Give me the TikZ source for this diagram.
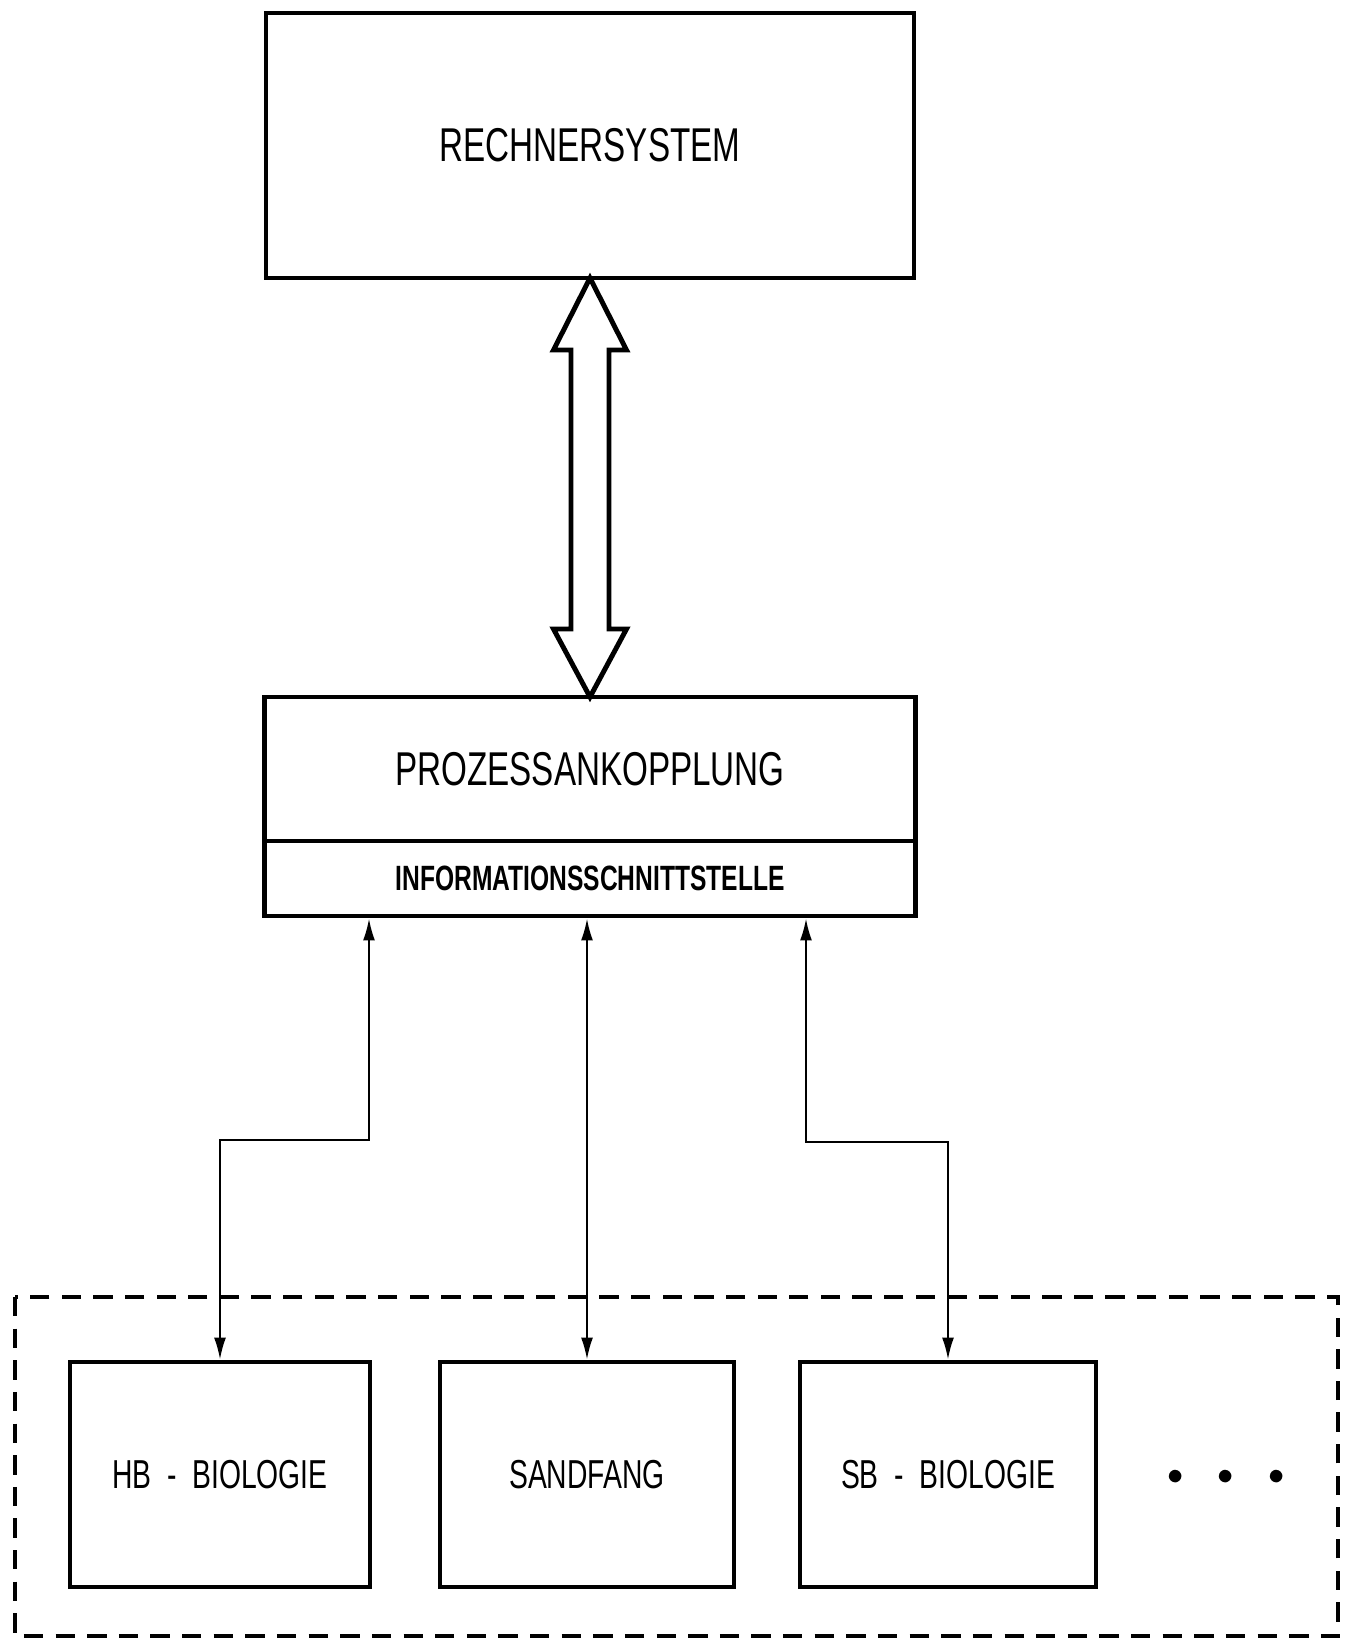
\documentclass[tikz,border=0pt]{standalone}
\usepackage{fontspec}
\usepackage{tikz}
\usetikzlibrary{positioning,calc,arrows.meta}
\newfontfamily\plotfont[FakeStretch=0.7]{Liberation Sans}

\tikzset{
  box/.style={draw, line width=1.4pt, inner sep=0pt, outer sep=0pt, font=\plotfont\fontsize{13.5}{16}\selectfont},
  unitbox/.style={box, minimum width=2.96cm, minimum height=2.25cm, font=\plotfont\fontsize{11.5}{14}\selectfont},
  link/.style={line width=0.6pt, shorten <=0.7pt, shorten >=0.7pt, {Latex[length=2.2mm,width=1.2mm]}-{Latex[length=2.2mm,width=1.2mm]}},
  frame/.style={dashed, line width=0.9pt, dash pattern=on 5.5pt off 3.5pt}
}

\begin{document}
\begin{tikzpicture}
  \useasboundingbox (0,0) rectangle (13.52,-16.44);

  \node[box, minimum width=6.48cm, minimum height=2.65cm] (rs) at (5.90,-1.455) {RECHNERSYSTEM};
  \node[box, minimum width=6.51cm, minimum height=1.44cm] (pa) at (5.90,-7.69) {PROZESSANKOPPLUNG};
  \node[box, minimum width=6.51cm, minimum height=0.75cm, below=0pt of pa,
        font=\plotfont\bfseries\fontsize{10}{12}\selectfont] (info) {INFORMATIONSSCHNITTSTELLE};

  \draw[line width=1.4pt, line join=miter] (rs.south) -- ++(0.365,-0.72) -- ++(-0.175,0)
    -- ($(pa.north)+(0.19,0.68)$) -- ++(0.175,0) -- (pa.north) -- ++(-0.365,0.68) -- ++(0.175,0)
    -- ($(rs.south)+(-0.19,-0.72)$) -- ++(-0.175,0) -- cycle;

  \node[unitbox, minimum width=3.0cm] (hb) at (2.20,-14.745) {HB\ \ -\ \ BIOLOGIE};
  \node[unitbox, minimum width=2.94cm] (sf) at (5.87,-14.745) {SANDFANG};
  \node[unitbox] (sb) at (9.48,-14.745) {SB\ \ -\ \ BIOLOGIE};
  \node (more) at (12.26,-14.77) {\small$\bullet$\hspace{3.4mm}$\bullet$\hspace{3.4mm}$\bullet$};

  \coordinate (kl) at (3.69,-11.40);
  \coordinate (kr) at (8.06,-11.42);
  \draw[link] (info.south -| kl) -- (kl) -| (hb.north);
  \draw[link] (info.south -| sf.north) -- (sf.north);
  \draw[link] (info.south -| kr) -- (kr) -| (sb.north);

  \draw[frame] (0.15,-12.97) rectangle (13.38,-16.36);
\end{tikzpicture}
\end{document}
